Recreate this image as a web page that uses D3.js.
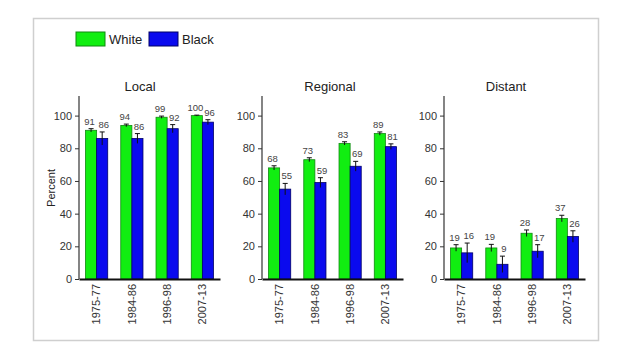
<!DOCTYPE html>
<html><head><meta charset="utf-8">
<script src="https://cdn.jsdelivr.net/npm/d3@7"></script>
<style>body{margin:0;background:#fff;font-family:Arial,"Liberation Sans",sans-serif;}</style>
</head><body><svg id="c" width="640" height="357"></svg>
<script>
const periods = ["1975-77","1984-86","1996-98","2007-13"];
const panels = ["Local","Regional","Distant"];
const series = ["White","Black"];
const whiteValues = [[91,94,99,100],[68,73,83,89],[19,19,28,37]];
const blackValues = [[86,86,92,96],[55,59,69,81],[16,9,17,26]];
const whiteErr = [[1,0.8,0.7,0.3],[1.3,1.2,1,1],[2,2.2,2,2]];
const blackErr = [[4,3,2.5,1.5],[3.5,3,3,1.7],[6,5,4,3.5]];
const yTicks = [0,20,40,60,80,100];
const colors = {White:"#11ee11", Black:"#0a0aee"};
const strokes = {White:"#118811", Black:"#000066"};

const svg = d3.select("#c");
svg.append("rect").attr("x",33.5).attr("y",18.5).attr("width",565).attr("height",322)
  .attr("fill","#fff").attr("stroke","#cfcfcf").attr("stroke-width",1.5);

// legend
const leg = svg.append("g");
const legX = [76,149];
series.forEach((s,i)=>{
  leg.append("rect").attr("x",legX[i]).attr("y",32).attr("width",29).attr("height",14)
    .attr("fill",colors[s]).attr("stroke",strokes[s]).attr("stroke-width",1);
  leg.append("text").attr("x",legX[i]+33).attr("y",44).attr("font-size",13).attr("fill","#222").text(s);
});

const axisX = [79,262,444];
const titleX = [140,330,506];
const W = 141;
const y = d3.scaleLinear().domain([0,112]).range([279,96]);

panels.forEach((p,pi)=>{
  const g = svg.append("g").attr("transform",`translate(${axisX[pi]},0)`);
  const x = d3.scaleBand().domain(periods).range([0,W]).paddingInner(0.37).paddingOuter(0.185);
  const xs = d3.scaleBand().domain(series).range([0,x.bandwidth()]);
  svg.append("text").attr("x",titleX[pi]).attr("y",91).attr("text-anchor","middle")
    .attr("font-size",13).attr("fill","#222").text(p);
  const ya = g.append("g").call(d3.axisLeft(y).tickValues(yTicks).tickSize(4).tickPadding(3));
  ya.select(".domain").attr("stroke","#333").attr("stroke-width",1.2).attr("d",`M0,${y(112)}V${y(0)}`);
  ya.selectAll(".tick line").attr("stroke","#333");
  ya.selectAll(".tick text").attr("font-size",11).attr("fill","#333").attr("font-family","Arial,'Liberation Sans',sans-serif");
  periods.forEach((per,ci)=>{
    series.forEach(s=>{
      const v = (s==="White"?whiteValues:blackValues)[pi][ci];
      const e = (s==="White"?whiteErr:blackErr)[pi][ci];
      const bx = x(per)+xs(s);
      const bw = xs.bandwidth();
      g.append("rect").attr("x",bx).attr("y",y(v)).attr("width",bw).attr("height",y(0)-y(v))
        .attr("fill",colors[s]).attr("stroke",strokes[s]).attr("stroke-width",0.8);
      const cx = bx+bw/2;
      g.append("line").attr("x1",cx).attr("x2",cx).attr("y1",y(v-e)).attr("y2",y(v+e)).attr("stroke","#111").attr("stroke-width",1);
      g.append("line").attr("x1",cx-2.5).attr("x2",cx+2.5).attr("y1",y(v+e)).attr("y2",y(v+e)).attr("stroke","#111").attr("stroke-width",1);
      g.append("text").attr("x",cx+(s==="White"?-1.5:1.5)).attr("y",y(v+e)-4).attr("text-anchor","middle")
        .attr("font-size",9.5).attr("fill","#444").text(v);
    });
  });
  const xa = g.append("g").attr("transform",`translate(0,${y(0)})`).call(d3.axisBottom(x).tickSize(0).tickPadding(4));
  xa.select(".domain").attr("stroke","#111").attr("stroke-width",2);
  xa.selectAll(".tick text").attr("font-size",11).attr("fill","#333").attr("font-family","Arial,'Liberation Sans',sans-serif")
    .attr("transform","rotate(-90)").attr("text-anchor","end").attr("dy","0.35em").attr("x",-5).attr("y",0);
});

svg.append("text").attr("transform","translate(55,188) rotate(-90)").attr("text-anchor","middle")
  .attr("font-size",11).attr("fill","#222").text("Percent");
</script></body></html>
